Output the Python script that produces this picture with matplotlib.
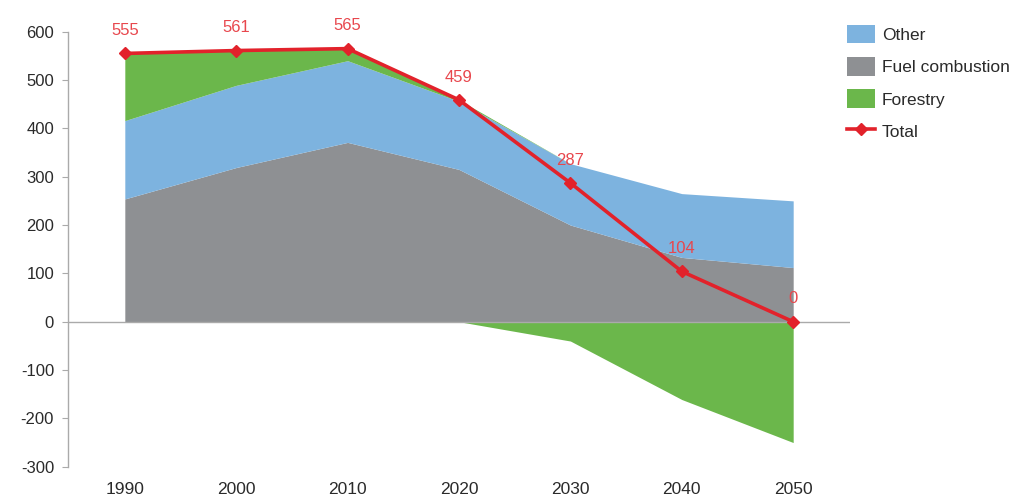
import matplotlib
matplotlib.use("Agg")
import matplotlib.pyplot as plt
from matplotlib.patches import Patch
from matplotlib.lines import Line2D
import numpy as np

plt.rcParams['font.family'] = ['Liberation Sans', 'DejaVu Sans']
plt.rcParams['axes.unicode_minus'] = False

years = [1990, 2000, 2010, 2020, 2030, 2040, 2050]
fuel_combustion = [254, 319, 371, 315, 200, 133, 112]
other = [162, 170, 169, 141, 127, 132, 138]
forestry = [139, 72, 25, 3, -40, -161, -250]
total = [555, 561, 565, 459, 287, 104, 0]
yticks = [-300, -200, -100, 0, 100, 200, 300, 400, 500, 600]

c_other = '#7DB3DF'
c_fuel = '#8E9093'
c_forest = '#6BB74B'
c_total = '#E2222B'
c_label = '#E8474D'
c_text = '#2A2A2A'

fig = plt.figure(figsize=(10.21, 4.99), dpi=100)
ax = fig.add_axes([68/1021, 1-466.7/499, 782/1021, (466.7-31.7)/499])

x = np.array(years, dtype=float)
fc = np.array(fuel_combustion, dtype=float)
ot = np.array(other, dtype=float)
fo = np.array(forestry, dtype=float)

pos_fo = np.clip(fo, 0, None)
neg_fo = np.clip(fo, None, 0)

ax.fill_between(x, 0, fc, color=c_fuel, linewidth=0)
ax.fill_between(x, fc, fc + ot, color=c_other, linewidth=0)
ax.fill_between(x, fc + ot, fc + ot + pos_fo, color=c_forest, linewidth=0)
ax.fill_between(x, neg_fo, 0, color=c_forest, linewidth=0)

ax.axhline(0, color='#AAAAAA', linewidth=1.0, zorder=3)

ax.plot(x, total, color=c_total, linewidth=2.6, marker='D', markersize=6.5,
        markerfacecolor=c_total, markeredgecolor=c_total, zorder=5, clip_on=False)
for xi, t in zip(years, total):
    ax.annotate(str(t), (xi, t), xytext=(0, 11), textcoords='offset points',
                ha='center', va='bottom', color=c_label, fontsize=12,
                annotation_clip=False, zorder=6)

ax.set_xlim(1984.9, 2055.1)
ax.set_ylim(-300, 600)
ax.set_yticks(yticks)
ax.set_xticks(years)
ax.set_xticklabels([str(y) for y in years])

for s in ['top', 'right', 'bottom']:
    ax.spines[s].set_visible(False)
ax.spines['left'].set_color('#AAAAAA')
ax.spines['left'].set_linewidth(1.0)
ax.tick_params(axis='y', length=4, color='#AAAAAA', labelsize=12, labelcolor=c_text, pad=6)
ax.tick_params(axis='x', length=0, labelsize=12.5, labelcolor=c_text, pad=11)

handles = [
    Patch(facecolor=c_other, edgecolor='none', label='Other'),
    Patch(facecolor=c_fuel, edgecolor='none', label='Fuel combustion'),
    Patch(facecolor=c_forest, edgecolor='none', label='Forestry'),
    Line2D([0], [0], color=c_total, linewidth=2.6, marker='D', markersize=6.5, label='Total'),
]
fig.legend(handles=handles, loc='upper left', bbox_to_anchor=(847/1021, 1-25/499),
           frameon=False, fontsize=12.5, handlelength=1.6, handleheight=1.25,
           labelspacing=0.8, handletextpad=0.4, borderpad=0, borderaxespad=0,
           labelcolor=c_text)

fig.savefig('out.png', dpi=100)
